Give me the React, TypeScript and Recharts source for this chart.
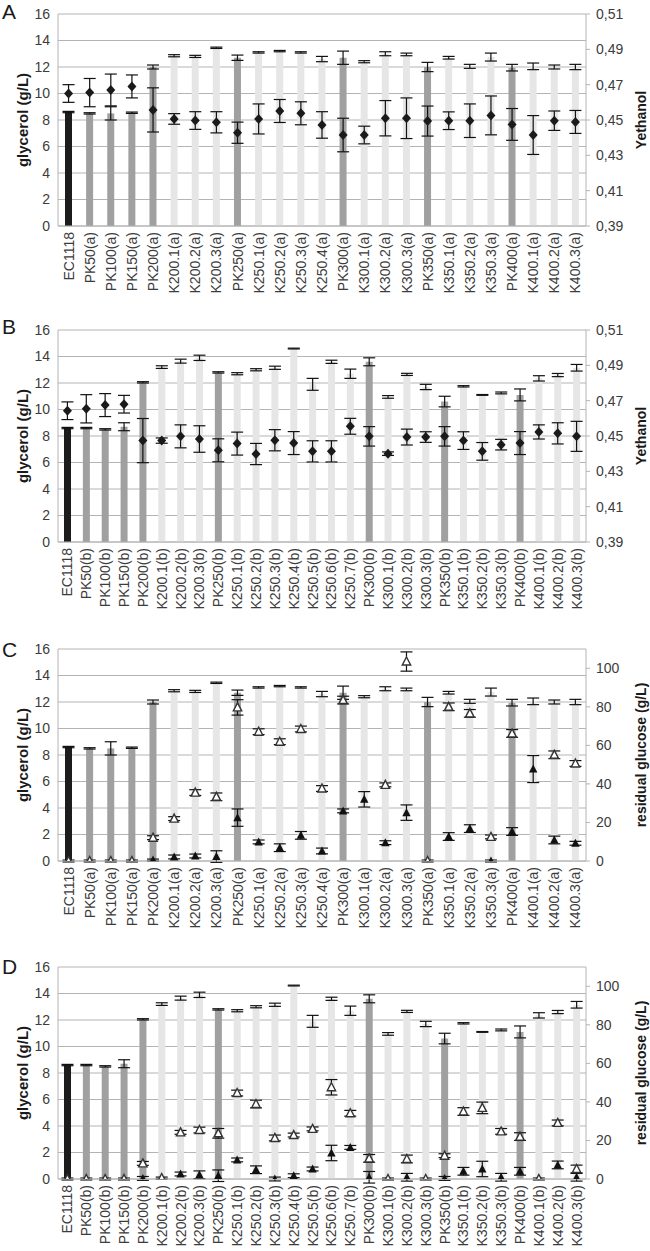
import {
  Bar,
  CartesianGrid,
  Cell,
  ComposedChart,
  ErrorBar,
  Scatter,
  XAxis,
  YAxis,
} from "recharts";

// (a) strains – panels A and C
const catsA = [
  "EC1118", "PK50(a)", "PK100(a)", "PK150(a)", "PK200(a)", "K200.1(a)", "K200.2(a)", "K200.3(a)",
  "PK250(a)", "K250.1(a)", "K250.2(a)", "K250.3(a)", "K250.4(a)", "PK300(a)", "K300.1(a)",
  "K300.2(a)", "K300.3(a)", "PK350(a)", "K350.1(a)", "K350.2(a)", "K350.3(a)", "PK400(a)",
  "K400.1(a)", "K400.2(a)", "K400.3(a)",
];
const glycA = [8.6, 8.5, 8.5, 8.55, 12.0, 12.85, 12.8, 13.45, 12.7, 13.1, 13.2, 13.1, 12.6, 12.7, 12.4, 13.0, 12.95, 12.0, 12.7, 12.05, 12.75, 11.95, 12.05, 12.0, 12.0];
const glycAErr = [0.05, 0.05, 0.5, 0.05, 0.15, 0.08, 0.08, 0.05, 0.2, 0.05, 0.05, 0.05, 0.2, 0.5, 0.08, 0.15, 0.1, 0.35, 0.1, 0.15, 0.3, 0.25, 0.25, 0.15, 0.2];
const ethA = [0.465, 0.4655, 0.467, 0.469, 0.4557, 0.4506, 0.4497, 0.4487, 0.4428, 0.4506, 0.4551, 0.4538, 0.4472, 0.4415, 0.4415, 0.451, 0.451, 0.4494, 0.4496, 0.4496, 0.4526, 0.4475, 0.4415, 0.4496, 0.4489];
const ethAErr = [0.005, 0.008, 0.009, 0.0065, 0.0125, 0.003, 0.005, 0.006, 0.006, 0.0085, 0.0065, 0.0065, 0.0075, 0.0095, 0.005, 0.01, 0.0115, 0.0085, 0.005, 0.0095, 0.011, 0.009, 0.011, 0.0055, 0.0065];
// K300.1(a) and K400.1(a) residual glucose lies above the axis range (off chart)
const glucOpenC = [0, 0, 0, 0, 12.1, 22.0, 35.5, 33.3, 79.7, 67.1, 61.9, 68.5, 37.6, 83.5, null, 39.5, 103.5, 0, 80, 76.6, 12.5, 66.2, null, 55.1, 50.6];
const glucOpenCErr = [0.5, 0.5, 0.5, 0.5, 1, 1, 1.5, 2, 4, 1.5, 1.5, 1.5, 1.5, 2, null, 1, 5, 0.5, 2, 2, 1, 2, null, 2, 1.5];
const glucFillC = [0, 0, 0, 0, 0.5, 2.1, 2.6, 2.3, 22.5, 9.9, 6.9, 13.3, 5.2, 26, 32, 9.5, 25.1, 0, 12.7, 16.8, 0, 15.3, 47.7, 10.9, 9.2];
const glucFillCErr = [0, 0, 0, 0, 0.5, 1, 1, 3, 4.5, 1, 2, 2, 1.5, 1, 4, 1, 4, 0, 2, 2, 0.5, 2, 7, 2, 1];

// (b) strains – panels B and D
const catsB = [
  "EC1118", "PK50(b)", "PK100(b)", "PK150(b)", "PK200(b)", "K200.1(b)", "K200.2(b)", "K200.3(b)",
  "PK250(b)", "K250.1(b)", "K250.2(b)", "K250.3(b)", "K250.4(b)", "K250.5(b)", "K250.6(b)",
  "K250.7(b)", "PK300(b)", "K300.1(b)", "K300.2(b)", "K300.3(b)", "PK350(b)", "K350.1(b)",
  "K350.2(b)", "K350.3(b)", "PK400(b)", "K400.1(b)", "K400.2(b)", "K400.3(b)",
];
const glycB = [8.6, 8.6, 8.5, 8.7, 12.05, 13.2, 13.65, 13.9, 12.8, 12.7, 13.0, 13.15, 14.6, 11.9, 13.6, 12.7, 13.6, 10.95, 12.65, 11.7, 10.6, 11.75, 11.1, 11.25, 11.1, 12.35, 12.6, 13.15];
const glycBErr = [0.05, 0.05, 0.05, 0.3, 0.05, 0.1, 0.15, 0.2, 0.05, 0.08, 0.08, 0.12, 0.03, 0.45, 0.12, 0.35, 0.3, 0.1, 0.08, 0.2, 0.4, 0.05, 0.03, 0.07, 0.45, 0.2, 0.12, 0.25];
const ethB = [0.4643, 0.4654, 0.4675, 0.468, 0.4474, 0.4474, 0.4498, 0.4483, 0.4419, 0.4457, 0.4398, 0.4476, 0.446, 0.4413, 0.4413, 0.4555, 0.4498, 0.44, 0.4494, 0.4494, 0.4498, 0.4474, 0.4413, 0.4451, 0.446, 0.4523, 0.4515, 0.4498];
const ethBErr = [0.005, 0.008, 0.0065, 0.005, 0.0125, 0.0015, 0.0065, 0.0075, 0.0065, 0.0065, 0.006, 0.006, 0.0065, 0.006, 0.006, 0.0045, 0.0055, 0.001, 0.0045, 0.003, 0.0055, 0.005, 0.005, 0.003, 0.0065, 0.004, 0.006, 0.0085];
const glucOpenD = [0, 0, 0, 0, 8.1, 0.5, 24.2, 25.4, 23.7, 44.6, 38.9, 21.3, 22.8, 26, 47.6, 34.1, 10.7, 0, 10.4, 0, 12.1, 35, 36.9, 24.7, 22, 0, 29.1, 5.2];
const glucOpenDErr = [0.5, 0.5, 0.5, 0.5, 1, 0.5, 1, 1.5, 2.5, 1.5, 2, 1.5, 1, 1, 4, 1.5, 2, 0.5, 2, 0.5, 1, 2, 3, 1.5, 2, 0.5, 1.5, 2];
const glucFillD = [0, 0, 0, 0, 0.3, 0, 2.6, 2.2, 1.7, 9.9, 4.8, 0, 1.7, 5.2, 13.5, 16.4, 0.9, 0, 0.9, 0, 0.3, 4, 5.2, 0.9, 4, 0, 7.3, 0.9];
const glucFillDErr = [0, 0, 0, 0, 1, 0, 1, 2, 3, 1, 2, 1, 1, 1, 4, 1, 3, 0, 2, 0, 1, 2, 4, 2, 2, 0, 2, 2];

const glycTicks = [0, 2, 4, 6, 8, 10, 12, 14, 16];
const ethTicks = [0.39, 0.41, 0.43, 0.45, 0.47, 0.49, 0.51];
const glucTicks = [0, 20, 40, 60, 80, 100];

const FONT = '"Liberation Sans", Arial, Helvetica, sans-serif';
const GRID = "#b4b4b4";
const TEXT = "#3c3c3c";

function barColor(name: string) {
  if (name === "EC1118") return "#1c1c1c";
  if (name.startsWith("PK")) return "#a0a0a0";
  return "#e6e6e6";
}

const Diamond = (p: any) => {
  const { cx, cy } = p;
  if (cx == null || cy == null) return <g />;
  return <path d={`M${cx},${cy - 5}L${cx + 4.5},${cy}L${cx},${cy + 5}L${cx - 4.5},${cy}Z`} fill="#1a1a1a" />;
};

const FilledTri = (p: any) => {
  const { cx, cy } = p;
  if (cx == null || cy == null || p.payload?.fill == null) return <g />;
  return <path d={`M${cx},${cy - 4.5}L${cx + 4.2},${cy + 3.5}L${cx - 4.2},${cy + 3.5}Z`} fill="#111" />;
};

const OpenTri = (p: any) => {
  const { cx, cy } = p;
  if (cx == null || cy == null || p.payload?.open == null) return <g />;
  return (
    <path
      d={`M${cx},${cy - 4.5}L${cx + 4.2},${cy + 3.5}L${cx - 4.2},${cy + 3.5}Z`}
      fill="#fff"
      stroke="#333"
      strokeWidth={1.4}
    />
  );
};

function XTick(p: any) {
  const { x, y, payload } = p;
  const ty = y + 6;
  return (
    <text
      x={x}
      y={ty}
      transform={`rotate(-90 ${x} ${ty})`}
      textAnchor="end"
      dy="0.36em"
      fontSize={14}
      fill={TEXT}
      fontFamily={FONT}
    >
      {payload.value}
    </text>
  );
}

type Row = Record<string, any>;

function Panel({
  top,
  letterTop,
  letter,
  rows,
  glucose,
  rightTitle,
}: {
  top: number;
  letterTop: number;
  letter: string;
  rows: Row[];
  glucose: boolean;
  rightTitle: string;
}) {
  const plotMid = top + 14 + 106;
  return (
    <>
      <div style={{ position: "absolute", left: 0, top }}>
        <ComposedChart width={650} height={300} data={rows} margin={{ top: 14, right: 0, bottom: 0, left: 0 }}>
          <CartesianGrid vertical={false} stroke={GRID} />
          <XAxis
            dataKey="name"
            interval={0}
            tick={<XTick />}
            tickLine={false}
            tickSize={0}
            tickMargin={0}
            height={74}
            axisLine={{ stroke: GRID }}
          />
          <YAxis
            domain={[0, 16]}
            ticks={glycTicks}
            width={58}
            tickLine={false}
            tickSize={0}
            tickMargin={8}
            axisLine={{ stroke: GRID }}
            tick={{ fontSize: 14, fill: TEXT, fontFamily: FONT }}
          />
          {glucose ? (
            <YAxis
              yAxisId="r"
              orientation="right"
              domain={[0, 110]}
              allowDataOverflow
              ticks={glucTicks}
              width={64}
              tickSize={4}
              tickMargin={6}
              axisLine={{ stroke: GRID }}
              tickLine={{ stroke: GRID }}
              tick={{ fontSize: 14, fill: TEXT, fontFamily: FONT }}
            />
          ) : (
            <YAxis
              yAxisId="r"
              orientation="right"
              domain={[0.39, 0.51]}
              allowDataOverflow
              ticks={ethTicks}
              width={64}
              tickSize={4}
              tickMargin={6}
              axisLine={{ stroke: GRID }}
              tickLine={{ stroke: GRID }}
              tickFormatter={(v) => Number(v).toFixed(2).replace(".", ",")}
              tick={{ fontSize: 14, fill: TEXT, fontFamily: FONT }}
            />
          )}
          <Bar dataKey="glyc" barSize={7} isAnimationActive={false}>
            {rows.map((r) => (
              <Cell key={r.name} fill={barColor(r.name)} />
            ))}
            <ErrorBar dataKey="glycErr" width={6} stroke="#111" strokeWidth={1.2} direction="y" />
          </Bar>
          {glucose ? (
            <Scatter yAxisId="r" dataKey="fill" shape={FilledTri} isAnimationActive={false}>
              <ErrorBar dataKey="fillErr" width={6} stroke="#111" strokeWidth={1.2} direction="y" />
            </Scatter>
          ) : null}
          {glucose ? (
            <Scatter yAxisId="r" dataKey="open" shape={OpenTri} isAnimationActive={false}>
              <ErrorBar dataKey="openErr" width={6} stroke="#111" strokeWidth={1.2} direction="y" />
            </Scatter>
          ) : (
            <Scatter yAxisId="r" dataKey="eth" shape={Diamond} isAnimationActive={false}>
              <ErrorBar dataKey="ethErr" width={6} stroke="#111" strokeWidth={1.2} direction="y" />
            </Scatter>
          )}
        </ComposedChart>
      </div>
      <div
        style={{
          position: "absolute",
          left: 2,
          top: letterTop,
          fontFamily: FONT,
          fontSize: 21,
          lineHeight: "22px",
          color: "#1a1a1a",
        }}
      >
        {letter}
      </div>
      <div
        style={{
          position: "absolute",
          left: 22,
          top: plotMid,
          transform: "translate(-50%, -50%) rotate(-90deg)",
          whiteSpace: "nowrap",
          fontFamily: FONT,
          fontWeight: "bold",
          fontSize: 15,
          color: "#1a1a1a",
        }}
      >
        glycerol (g/L)
      </div>
      <div
        style={{
          position: "absolute",
          left: 641,
          top: plotMid,
          transform: "translate(-50%, -50%) rotate(-90deg)",
          whiteSpace: "nowrap",
          fontFamily: FONT,
          fontWeight: "bold",
          fontSize: 14,
          color: "#1a1a1a",
        }}
      >
        {rightTitle}
      </div>
    </>
  );
}

const rowsA = catsA.map((name, i) => ({ name, glyc: glycA[i], glycErr: glycAErr[i], eth: ethA[i], ethErr: ethAErr[i] }));
const rowsB = catsB.map((name, i) => ({ name, glyc: glycB[i], glycErr: glycBErr[i], eth: ethB[i], ethErr: ethBErr[i] }));
const rowsC = catsA.map((name, i) => ({
  name,
  glyc: glycA[i],
  glycErr: glycAErr[i],
  open: glucOpenC[i],
  openErr: glucOpenCErr[i],
  fill: glucFillC[i],
  fillErr: glucFillCErr[i],
}));
const rowsD = catsB.map((name, i) => ({
  name,
  glyc: glycB[i],
  glycErr: glycBErr[i],
  open: glucOpenD[i],
  openErr: glucOpenDErr[i],
  fill: glucFillD[i],
  fillErr: glucFillDErr[i],
}));

export default function App() {
  return (
    <div
      style={{
        position: "absolute",
        left: 0,
        top: 0,
        width: 650,
        height: 1251,
        overflow: "hidden",
        background: "#fff",
      }}
    >
      <Panel top={0} letterTop={1} letter="A" rows={rowsA} glucose={false} rightTitle="Yethanol" />
      <Panel top={316} letterTop={316} letter="B" rows={rowsB} glucose={false} rightTitle="Yethanol" />
      <Panel top={635} letterTop={639} letter="C" rows={rowsC} glucose rightTitle="residual glucose (g/L)" />
      <Panel top={953} letterTop={956} letter="D" rows={rowsD} glucose rightTitle="residual glucose (g/L)" />
    </div>
  );
}
